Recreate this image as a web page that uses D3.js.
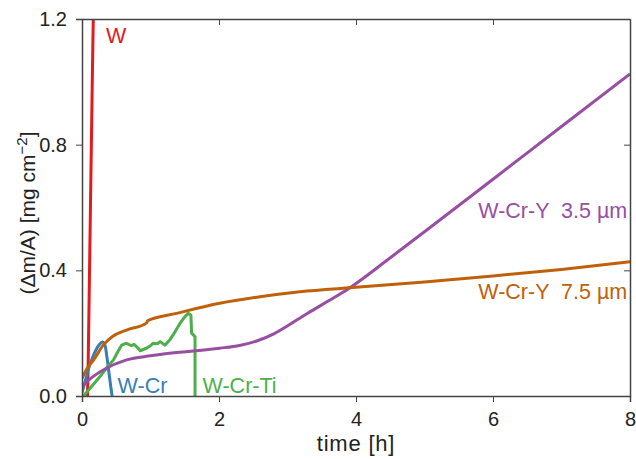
<!DOCTYPE html>
<html>
<head>
<meta charset="utf-8">
<script src="https://cdn.jsdelivr.net/npm/d3@7"></script>
<style>
body { margin: 0; background: #fff; }
svg text { font-family: "Liberation Sans", Arial, sans-serif; }
.axis path, .axis line { stroke: #444; }
.axis text { font-size: 20px; fill: #222; }
.curve { fill: none; stroke-width: 3; stroke-linejoin: round; }
.lbl { white-space: pre; }
</style>
</head>
<body>
<svg id="chart" width="636" height="459"></svg>
<script>
// values: [time h, mass gain mg/cm2]
var series_w = [[0.08, 0], [0.09, 0.1], [0.11, 0.4], [0.13, 0.7], [0.15, 1.0], [0.168, 1.25]];
var series_wcr = [[0.0, 0.01], [0.05, 0.05], [0.1, 0.09], [0.15, 0.12], [0.2, 0.145], [0.25, 0.163],
    [0.3, 0.172], [0.33, 0.165], [0.36, 0.13], [0.39, 0.08], [0.42, 0.03], [0.44, 0]];
var series_wcrti = [[0.02, 0.0], [0.1, 0.02], [0.26, 0.061], [0.36, 0.09], [0.46, 0.115], [0.52, 0.14],
    [0.58, 0.162], [0.65, 0.168], [0.72, 0.16], [0.76, 0.164], [0.82, 0.152], [0.85, 0.144], [0.94, 0.152],
    [1.0, 0.16], [1.04, 0.168], [1.1, 0.166], [1.14, 0.173], [1.21, 0.162], [1.28, 0.178], [1.36, 0.205],
    [1.43, 0.231], [1.5, 0.252], [1.55, 0.263], [1.59, 0.258], [1.6, 0.2], [1.65, 0.189], [1.65, 0]];
var series_y75 = [[0.0, 0.056], [0.08, 0.09], [0.17, 0.115], [0.31, 0.162], [0.45, 0.19], [0.65, 0.21],
    [0.94, 0.232], [0.96, 0.24], [1.38, 0.263], [2.01, 0.295], [2.6, 0.316], [3.18, 0.332], [4.0, 0.346],
    [5.0, 0.363], [6.0, 0.382], [7.0, 0.403], [8.0, 0.427]];
var series_y35 = [[0.0, 0.03], [0.15, 0.06], [0.31, 0.083], [0.65, 0.115], [1.0, 0.128], [1.28, 0.136],
    [2.01, 0.152], [2.3, 0.161], [2.55, 0.175], [2.8, 0.198], [3.05, 0.23], [3.3, 0.264], [3.6, 0.303],
    [3.88, 0.34], [4.5, 0.44], [5.0, 0.523], [6.0, 0.69], [7.0, 0.858], [8.0, 1.025]];
var x_ticks = [0, 2, 4, 6, 8];
var y_ticks = [0.0, 0.4, 0.8, 1.2];

var curves = [
    {name: "W", data: series_w, color: "#e41a1c", kind: d3.curveLinear, lx: 0.35, ly: 1.125, anchor: "start"},
    {name: "W-Cr", data: series_wcr, color: "#377eb8", kind: d3.curveCatmullRom, lx: 0.52, ly: 0.008, anchor: "start"},
    {name: "W-Cr-Ti", data: series_wcrti, color: "#4daf4a", kind: d3.curveLinear, lx: 1.76, ly: 0.008, anchor: "start"},
    {name: "W-Cr-Y  3.5 µm", data: series_y35, color: "#984ea3", kind: d3.curveMonotoneX, lx: 7.96, ly: 0.565, anchor: "end"},
    {name: "W-Cr-Y  7.5 µm", data: series_y75, color: "#c0600a", kind: d3.curveMonotoneX, lx: 7.96, ly: 0.31, anchor: "end"}
];

var svg = d3.select("#chart");
var pad_left = 82, pad_right = 6, pad_top = 19, pad_bot = 63;
var w = 636 - pad_left - pad_right, h = 459 - pad_top - pad_bot;

var xs = d3.scaleLinear().domain([0, 8]).range([0, w]);
var ys = d3.scaleLinear().domain([0, 1.2]).range([h, 0]);

var g = svg.append("g").attr("transform", "translate(" + pad_left + "," + pad_top + ")");

g.append("clipPath").attr("id", "clip")
    .append("rect").attr("width", w).attr("height", h);

g.append("g").attr("clip-path", "url(#clip)")
    .selectAll("path")
    .data(curves)
    .enter().append("path")
    .attr("class", "curve")
    .attr("stroke", function (d) { return d.color; })
    .attr("d", function (d) {
        return d3.line()
            .x(function (p) { return xs(p[0]); })
            .y(function (p) { return ys(p[1]); })
            .curve(d.kind)(d.data);
    });

// axes: outer ticks bottom/left, inner ticks top/right
g.append("g").attr("class", "axis")
    .attr("transform", "translate(0," + h + ")")
    .call(d3.axisBottom(xs).tickValues(x_ticks).tickSize(6).tickPadding(10).tickFormat(d3.format("d")));
g.append("g").attr("class", "axis")
    .call(d3.axisLeft(ys).tickValues(y_ticks).tickSize(6).tickPadding(9).tickFormat(d3.format(".1f")));
g.append("g").attr("class", "axis")
    .call(d3.axisTop(xs).tickValues(x_ticks).tickSizeInner(-6).tickSizeOuter(0).tickFormat(""));
g.append("g").attr("class", "axis")
    .attr("transform", "translate(" + w + ",0)")
    .call(d3.axisRight(ys).tickValues(y_ticks).tickSizeInner(-6).tickSizeOuter(0).tickFormat(""));
g.selectAll(".axis .domain").attr("stroke", "#555").attr("stroke-width", 1.5);

// curve labels
g.selectAll(".lbl")
    .data(curves)
    .enter().append("text")
    .attr("class", "lbl")
    .attr("xml:space", "preserve")
    .attr("x", function (d) { return xs(d.lx); })
    .attr("y", function (d) { return ys(d.ly); })
    .attr("fill", function (d) { return d.color; })
    .attr("font-size", 21.5)
    .attr("text-anchor", function (d) { return d.anchor; })
    .text(function (d) { return d.name; });

svg.append("text")
    .attr("x", pad_left + w / 2)
    .attr("y", 451)
    .attr("text-anchor", "middle")
    .attr("font-size", 22)
    .attr("letter-spacing", 0.8)
    .attr("fill", "#222")
    .text("time [h]");

var yl = svg.append("text")
    .attr("transform", "translate(35,213) rotate(-90)")
    .attr("text-anchor", "middle")
    .attr("font-size", 21)
    .attr("fill", "#222");
yl.append("tspan").text("(Δm/A) [mg cm");
yl.append("tspan").attr("dy", -8).attr("font-size", 15).text("−2");
yl.append("tspan").attr("dy", 8).text("]");
</script>
</body>
</html>
